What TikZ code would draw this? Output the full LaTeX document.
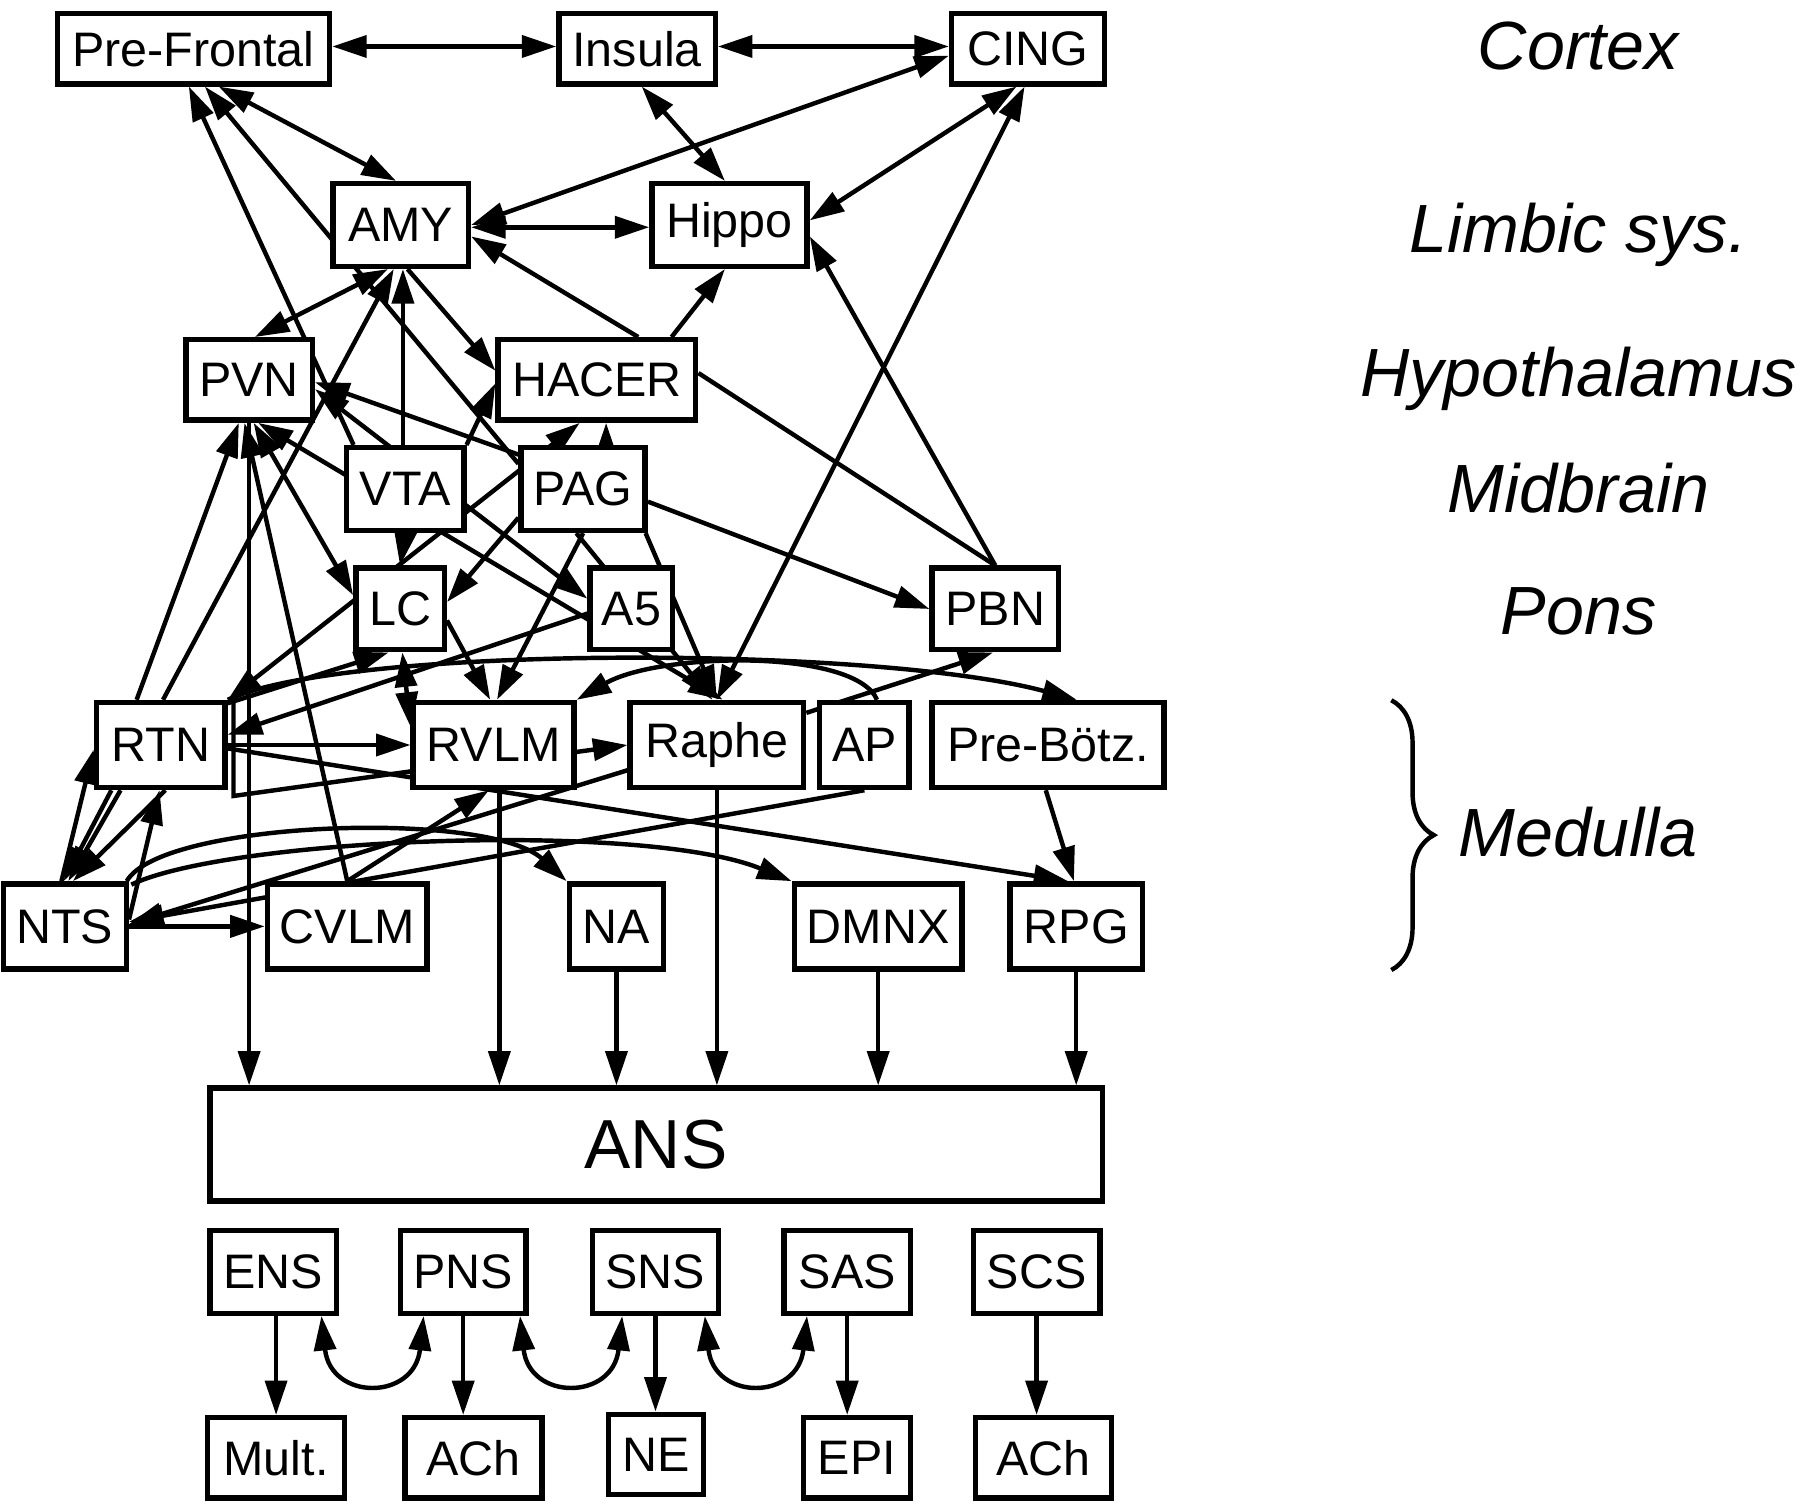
\documentclass[tikz,border=0pt]{standalone}
\usepackage{fontspec}
\setmainfont{Liberation Sans}
\usetikzlibrary{arrows.meta,calc,decorations.pathreplacing}
\pgfdeclarelayer{edges}
\pgfsetlayers{edges,main}
\tikzset{
  box/.style={draw, line width=1.35pt, fill=white, inner sep=0pt, font=\fontsize{12}{14}\selectfont},
  con/.style={line width=1.1pt, -{Triangle[length=3.0mm,width=1.9mm]}},
  bi/.style={line width=1.1pt, {Triangle[length=3.0mm,width=1.9mm]}-{Triangle[length=3.0mm,width=1.9mm]}},
  plain/.style={line width=1.1pt},
  region/.style={font=\fontsize{16.9}{20}\selectfont\itshape},
}
\begin{document}
\begin{tikzpicture}[x=0.01cm,y=-0.01cm]
\useasboundingbox (0,0) rectangle (1568,1310);
% ---- nodes
\node[box,minimum width=2.37cm,minimum height=0.61cm] (PF) at (168.5,42.5) {Pre-Frontal};
\node[box,minimum width=1.36cm,minimum height=0.61cm] (Ins) at (555,42.5) {Insula};
\node[box,minimum width=1.33cm,minimum height=0.61cm] (CING) at (895.5,42.5) {CING};
\node[box,minimum width=1.18cm,minimum height=0.72cm] (AMY) at (349,196) {AMY};
\node[box,minimum width=1.35cm,minimum height=0.72cm] (Hippo) at (635.5,196) {Hippo};
\node[box,minimum width=1.10cm,minimum height=0.70cm] (PVN) at (217,331) {PVN};
\node[box,minimum width=1.72cm,minimum height=0.70cm] (HACER) at (520,331) {HACER};
\node[box,minimum width=1.02cm,minimum height=0.72cm] (VTA) at (353,426) {VTA};
\node[box,minimum width=1.08cm,minimum height=0.72cm] (PAG) at (508,426) {PAG};
\node[box,minimum width=0.77cm,minimum height=0.71cm] (LC) at (348.5,530.5) {LC};
\node[box,minimum width=0.72cm,minimum height=0.71cm] (A5) at (550,530.5) {A5};
\node[box,minimum width=1.10cm,minimum height=0.71cm] (PBN) at (867,530.5) {PBN};
\node[box,minimum width=1.12cm,minimum height=0.74cm] (RTN) at (140,649) {RTN};
\node[box,minimum width=1.40cm,minimum height=0.74cm] (RVLM) at (430,649) {RVLM};
\node[box,minimum width=1.51cm,minimum height=0.74cm] (Raphe) at (624.5,649) {Raphe};
\node[box,minimum width=0.78cm,minimum height=0.74cm] (AP) at (753,649) {AP};
\node[box,minimum width=2.02cm,minimum height=0.74cm] (PreB) at (913,649) {Pre-Bötz.};
\node[box,minimum width=1.07cm,minimum height=0.74cm] (NTS) at (56.5,807) {NTS};
\node[box,minimum width=1.39cm,minimum height=0.74cm] (CVLM) at (302.5,807) {CVLM};
\node[box,minimum width=0.82cm,minimum height=0.74cm] (NA) at (537,807) {NA};
\node[box,minimum width=1.46cm,minimum height=0.74cm] (DMNX) at (765,807) {DMNX};
\node[box,minimum width=1.15cm,minimum height=0.74cm] (RPG) at (937.5,807) {RPG};
\node[box,minimum width=7.77cm,minimum height=0.98cm,font=\fontsize{17.2}{20}\selectfont] (ANS) at (571.5,997) {ANS};
\node[box,minimum width=1.10cm,minimum height=0.72cm] (ENS) at (238,1108) {ENS};
\node[box,minimum width=1.09cm,minimum height=0.72cm] (PNS) at (403.5,1108) {PNS};
\node[box,minimum width=1.10cm,minimum height=0.72cm] (SNS) at (571,1108) {SNS};
\node[box,minimum width=1.10cm,minimum height=0.72cm] (SAS) at (738,1108) {SAS};
\node[box,minimum width=1.10cm,minimum height=0.72cm] (SCS) at (903,1108) {SCS};
\node[box,minimum width=1.19cm,minimum height=0.70cm] (Mult) at (240.5,1270) {Mult.};
\node[box,minimum width=1.19cm,minimum height=0.70cm] (AChA) at (412.5,1270) {ACh};
\node[box,minimum width=0.83cm,minimum height=0.70cm] (NE) at (571.5,1267) {NE};
\node[box,minimum width=0.93cm,minimum height=0.70cm] (EPI) at (746.5,1270) {EPI};
\node[box,minimum width=1.18cm,minimum height=0.70cm] (AChB) at (909,1270) {ACh};
% ---- region labels
\node[region] (lcortex) at (1375,40) {Cortex};
\node[region] (llimbic) at (1375,205) {Limbic sys.};
\node[region] (lhypo) at (1375,330) {Hypothalamus};
\node[region] (lmid) at (1375,425) {Midbrain};
\node[region] (lpons) at (1375,533) {Pons};
\node[region] (lmed) at (1375,725) {Medulla};
\draw[line width=1.1pt,decorate,decoration={brace,amplitude=0.37cm}] (1212,610) -- (1212,845);
% ---- connectors
\begin{pgfonlayer}{edges}
% cortex / limbic
\draw[bi] ($(PF.east)+(0,-2)$) -- ($(Ins.west)+(0,-2)$);
\draw[bi] ($(Ins.east)+(0,-2)$) -- ($(CING.west)+(0,-2)$);
\draw[bi] ($(PF.south)+(22,0)$) -- ($(AMY.north)+(-4,0)$);
\draw[bi] ($(CING.west)+(0,6)$) -- (AMY.east);
\draw[bi] ($(Ins.south)+(4,0)$) -- ($(Hippo.north)+(-4,0)$);
\draw[bi] ($(CING.south)+(-10,0)$) -- ($(Hippo.east)+(0,-4)$);
\draw[bi] ($(AMY.east)+(0,2)$) -- ($(Hippo.west)+(0,2)$);
\draw[con] ($(VTA.north)+(-45,0)$) -- ($(PF.south)+(-4,0)$);
\draw[con] ($(PAG.west)+(0,-22)$) -- ($(PF.south)+(10,0)$);
\draw[bi] ($(AMY.south)+(-11,0)$) -- ($(PVN.north)+(5,0)$);
\draw[con] ($(VTA.north)+(-2,0)$) -- ($(AMY.south)+(2,0)$);
\draw[con] ($(RTN.north)+(2,0)$) -- ($(AMY.south)+(-6,0)$);
\draw[con] ($(AMY.south)+(6,0)$) -- ($(HACER.west)+(0,-8)$);
\draw[con] ($(HACER.north)+(36,0)$) -- ($(AMY.east)+(0,10)$);
\draw[con] ($(HACER.north)+(65,0)$) -- ($(Hippo.south)+(-4,0)$);
\draw[con] (PBN.north) -- ($(Hippo.east)+(0,10)$);
\draw[bi] (Raphe.north) -- ($(CING.south)+(-3,0)$);
\draw[plain] ($(HACER.east)+(0,-6)$) -- (PBN.north);
\draw[con] ($(PAG.east)+(0,11)$) -- (PBN.west);
% hypothalamus / midbrain / pons
\draw[con] ($(PAG.west)+(0,-30)$) -- ($(PVN.east)+(0,2)$);
\draw[bi] ($(PVN.east)+(0,8)$) -- ($(A5.west)+(0,-9)$);
\draw[bi] ($(PVN.south)+(8,0)$) -- ($(Raphe.north)+(5,0)$);
\draw[bi] ($(PVN.south)+(4,0)$) -- ($(LC.west)+(0,-12)$);
\draw[con] (CVLM.north) -- ($(PVN.south)+(-4,0)$);
\draw[con] (PVN.south) -- (PVN.south |- ANS.north);
\draw[con] ($(RTN.north)+(-21,0)$) -- ($(PVN.south)+(-9,0)$);
\draw[bi] (VTA.south) -- (LC.north);
\draw[bi] (RTN.north east) -- ($(HACER.south)+(-15,0)$);
\draw[con] ($(PAG.north)+(20,0)$) -- ($(HACER.south)+(8,0)$);
\draw[con] (VTA.north east) -- ($(HACER.west)+(0,3)$);
\draw[con] ($(PAG.west)+(0,25)$) -- ($(LC.east)+(0,-6)$);
\draw[con] ($(RTN.north east)+(0,3)$) -- ($(LC.south)+(-10,0)$);
\draw[bi] ($(LC.south)+(2,0)$) -- ($(RVLM.west)+(0,-16)$);
\draw[con] ($(LC.east)+(0,10)$) -- ($(RVLM.north)+(-3,0)$);
\draw[con] (PAG.south) -- ($(RVLM.north)+(3,0)$);
\draw[con] ($(PAG.south)+(-6,0)$) -- ($(Raphe.north)+(-4,0)$);
\draw[con] ($(PAG.south east)+(-2,0)$) -- (Raphe.north);
% medulla
\draw[con] ($(A5.west)+(0,4)$) -- ($(RTN.east)+(0,-9)$);
\draw[con] (RTN.east) -- (RVLM.west);
\draw[con] ($(RTN.east)+(0,3)$) -- ($(RPG.north)+(-7,0)$);
\draw[con] (RTN.north east) .. controls (300,562) and (760,562) .. ($(PreB.north)+(25,0)$);
\draw[con] ($(AP.north)+(11,0)$) .. controls (745,565) and (575,568) .. (RVLM.north east);
\draw[con] ($(Raphe.east)+(0,-28)$) -- ($(PBN.south)+(-2,0)$);
\draw[con] ($(RVLM.east)+(0,6)$) -- (Raphe.west);
\draw[con] ($(Raphe.west)+(0,22)$) -- ($(NTS.east)+(0,-2)$);
\draw[con] (AP.south) -- ($(NTS.east)+(0,-4)$);
\draw[con] (NTS.east) -- (CVLM.west);
\draw[con] (CVLM.north) -- ($(RVLM.south)+(-4,0)$);
\draw[con] ($(PreB.south)+(-2,0)$) -- ($(RPG.north)+(-2,0)$);
\draw[con] ($(NTS.north east)+(-2,0)$) .. controls (140,715) and (425,705) .. (NA.north west);
\draw[con] ($(NTS.north east)+(2,3)$) .. controls (200,730) and (560,715) .. (DMNX.north west);
\draw[con] ($(NTS.north)+(-3,0)$) -- ($(RTN.west)+(0,4)$);
\draw[con] ($(RTN.south)+(-43,0)$) -- ($(NTS.north)+(-1,0)$);
\draw[con] ($(RTN.south)+(-35,0)$) -- ($(NTS.north)+(3,0)$);
\draw[con] ($(RTN.south)+(4,0)$) -- ($(NTS.north)+(7,0)$);
\draw[con] ($(NTS.east)+(0,-6)$) -- ($(RTN.south)+(-1,0)$);
\draw[plain] ($(RVLM.west)+(0,23)$) -- ($(RTN.south east)+(5,5)$) -- ($(RTN.north east)+(5,0)$);
% to ANS
\coordinate (rvout) at ($(RVLM.south)+(5,0)$);
\draw[con] (rvout) -- (rvout |- ANS.north);
\draw[con] (Raphe.south) -- (Raphe.south |- ANS.north);
\draw[con] (NA.south) -- (NA.south |- ANS.north);
\draw[con] (DMNX.south) -- (DMNX.south |- ANS.north);
\draw[con] (RPG.south) -- (RPG.south |- ANS.north);
% ANS subsystems
\draw[con] (Mult.north |- ENS.south) -- (Mult.north);
\draw[con] (PNS.south) -- (PNS.south |- AChA.north);
\draw[con] (SNS.south) -- (SNS.south |- NE.north);
\draw[con] (SAS.south) -- (SAS.south |- EPI.north);
\draw[con] (SCS.south) -- (SCS.south |- AChB.north);
\draw[bi] ($(ENS.south)+(42,0)$) .. controls +(8,74) and +(-8,74) .. ($(PNS.south)+(-34.5,0)$);
\draw[bi] ($(PNS.south)+(49.5,0)$) .. controls +(8,74) and +(-8,74) .. ($(SNS.south)+(-29,0)$);
\draw[bi] ($(SNS.south)+(43,0)$) .. controls +(8,74) and +(-8,74) .. ($(SAS.south)+(-35,0)$);
\end{pgfonlayer}
\end{tikzpicture}
\end{document}
